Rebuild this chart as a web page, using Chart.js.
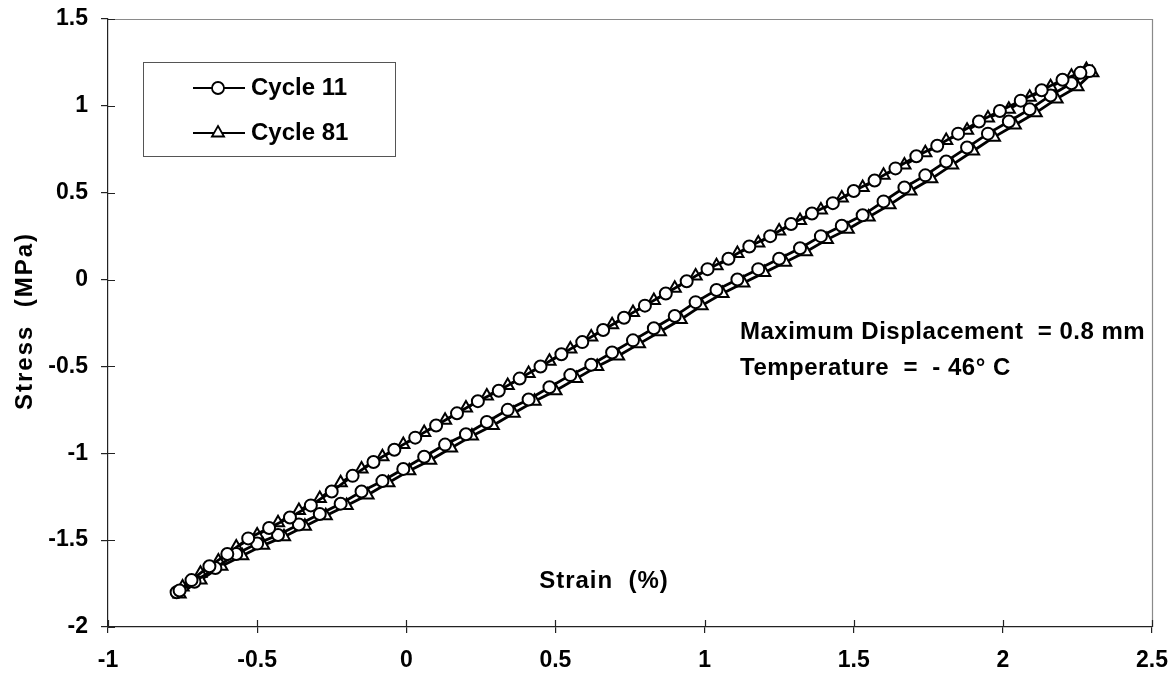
<!DOCTYPE html>
<html lang="en">
<head>
    <meta charset="UTF-8">
    <script src="https://cdn.jsdelivr.net/npm/chart.js@4.4.1/dist/chart.umd.min.js"></script>
    <style>
        * { margin: 0; padding: 0; box-sizing: border-box; }
        body { background: #fff; width: 1175px; height: 680px; overflow: hidden; }
        .chart-box { position: relative; width: 1175px; height: 680px; }
    </style>
</head>
<body>
    <div class="chart-box"><canvas id="loopChart" width="1175" height="680"></canvas></div>

    <script>
        // Cycle 11: loading branch (up) then unloading branch (down)
        const cycle11Strain = [
            -0.77, -0.71, -0.64, -0.57, -0.50, -0.43, -0.36, -0.29, -0.22, -0.15, -0.08, -0.01, 0.06, 0.13, 0.20,
            0.27, 0.34, 0.41, 0.48, 0.55, 0.62, 0.69, 0.76, 0.83, 0.90, 0.97, 1.04, 1.11, 1.18, 1.25,
            1.32, 1.39, 1.46, 1.53, 1.60, 1.67, 1.74, 1.81, 1.88, 1.95, 2.02, 2.09, 2.16, 2.23, 2.29,
            2.26, 2.20, 2.13, 2.06, 1.99, 1.92, 1.85, 1.78, 1.71, 1.64, 1.57, 1.50, 1.43, 1.36, 1.29,
            1.22, 1.15, 1.08, 1.01, 0.94, 0.87, 0.80, 0.73, 0.66, 0.59, 0.52, 0.45, 0.38, 0.31, 0.24,
            0.17, 0.10, 0.03, -0.04, -0.11, -0.18, -0.25, -0.32, -0.39, -0.46, -0.53, -0.60, -0.66, -0.72, -0.76
        ];
        const cycle11Stress = [
            -1.80, -1.74, -1.66, -1.58, -1.52, -1.47, -1.41, -1.35, -1.29, -1.22, -1.16, -1.09, -1.02, -0.95, -0.89,
            -0.82, -0.75, -0.69, -0.62, -0.55, -0.49, -0.42, -0.35, -0.28, -0.21, -0.13, -0.06, 0.00, 0.06, 0.12,
            0.18, 0.25, 0.31, 0.37, 0.45, 0.53, 0.60, 0.68, 0.76, 0.84, 0.91, 0.98, 1.06, 1.13, 1.20,
            1.19, 1.15, 1.09, 1.03, 0.97, 0.91, 0.84, 0.77, 0.71, 0.64, 0.57, 0.51, 0.44, 0.38, 0.32,
            0.25, 0.19, 0.12, 0.06, -0.01, -0.08, -0.15, -0.22, -0.29, -0.36, -0.43, -0.50, -0.57, -0.64, -0.70,
            -0.77, -0.84, -0.91, -0.98, -1.05, -1.13, -1.22, -1.30, -1.37, -1.43, -1.49, -1.58, -1.65, -1.73, -1.79
        ];

        // Cycle 81
        const cycle81Strain = [
            -0.76, -0.69, -0.62, -0.55, -0.48, -0.41, -0.34, -0.27, -0.20, -0.13, -0.06, 0.01, 0.08, 0.15, 0.22,
            0.29, 0.36, 0.43, 0.50, 0.57, 0.64, 0.71, 0.78, 0.85, 0.92, 0.99, 1.06, 1.13, 1.20, 1.27,
            1.34, 1.41, 1.48, 1.55, 1.62, 1.69, 1.76, 1.83, 1.90, 1.97, 2.04, 2.11, 2.18, 2.25, 2.30,
            2.28, 2.23, 2.16, 2.09, 2.02, 1.95, 1.88, 1.81, 1.74, 1.67, 1.60, 1.53, 1.46, 1.39, 1.32,
            1.25, 1.18, 1.11, 1.04, 0.97, 0.90, 0.83, 0.76, 0.69, 0.62, 0.55, 0.48, 0.41, 0.34, 0.27,
            0.20, 0.13, 0.06, -0.01, -0.08, -0.15, -0.22, -0.29, -0.36, -0.43, -0.50, -0.57, -0.63, -0.69, -0.75
        ];
        const cycle81Stress = [
            -1.81, -1.73, -1.65, -1.59, -1.53, -1.48, -1.42, -1.36, -1.30, -1.24, -1.17, -1.10, -1.04, -0.97, -0.90,
            -0.84, -0.77, -0.70, -0.64, -0.57, -0.50, -0.44, -0.37, -0.30, -0.23, -0.15, -0.08, -0.02, 0.04, 0.10,
            0.16, 0.23, 0.29, 0.36, 0.43, 0.51, 0.58, 0.66, 0.74, 0.82, 0.89, 0.96, 1.04, 1.11, 1.19,
            1.21, 1.17, 1.11, 1.05, 0.98, 0.93, 0.86, 0.80, 0.73, 0.66, 0.60, 0.53, 0.47, 0.40, 0.34,
            0.28, 0.21, 0.15, 0.08, 0.02, -0.05, -0.12, -0.19, -0.26, -0.33, -0.40, -0.47, -0.54, -0.61, -0.67,
            -0.74, -0.81, -0.88, -0.95, -1.02, -1.09, -1.17, -1.26, -1.33, -1.40, -1.47, -1.54, -1.62, -1.69, -1.77
        ];

        const xTickValues = [-1, -0.5, 0, 0.5, 1, 1.5, 2, 2.5];
        const yTickValues = [-2, -1.5, -1, -0.5, 0, 0.5, 1, 1.5];
        const seriesNames = ['Cycle 11', 'Cycle 81'];
        const xTitle = 'Strain  (%)';
        const yTitle = 'Stress  (MPa)';
        const noteLines = ['Maximum Displacement  = 0.8 mm', 'Temperature  =  - 46\u00B0 C'];

        const FONT = '"Liberation Sans", Arial, sans-serif';

        function toPoints(xs, ys) {
            return xs.map((x, i) => ({ x: x, y: ys[i] }));
        }

        // inner tick marks, top/right frame, legend box and text notes
        const decorPlugin = {
            id: 'decor',
            afterDraw(chart) {
                const ctx = chart.ctx;
                const a = chart.chartArea;
                const xs = chart.scales.x;
                const ys = chart.scales.y;
                ctx.save();

                ctx.strokeStyle = '#8a8a8a';
                ctx.lineWidth = 1.2;
                ctx.beginPath();
                ctx.moveTo(a.left, a.top + 0.5);
                ctx.lineTo(a.right + 0.5, a.top + 0.5);
                ctx.lineTo(a.right + 0.5, a.bottom);
                ctx.stroke();

                ctx.strokeStyle = '#222';
                ctx.lineWidth = 1.2;
                ctx.beginPath();
                xTickValues.forEach(v => {
                    const px = Math.round(xs.getPixelForValue(v)) + 0.5;
                    ctx.moveTo(px, a.bottom);
                    ctx.lineTo(px, a.bottom - 7);
                });
                yTickValues.forEach(v => {
                    const py = Math.round(ys.getPixelForValue(v)) + 0.5;
                    ctx.moveTo(a.left, py);
                    ctx.lineTo(a.left + 7, py);
                });
                ctx.stroke();

                // legend
                ctx.strokeStyle = '#555';
                ctx.lineWidth = 1;
                ctx.strokeRect(143.5, 62.5, 252, 94);
                const rows = [88, 133];
                chart.data.datasets.forEach((ds, i) => {
                    const y = rows[i];
                    ctx.strokeStyle = '#000';
                    ctx.lineWidth = 2;
                    ctx.beginPath();
                    ctx.moveTo(193, y);
                    ctx.lineTo(245, y);
                    ctx.stroke();
                    ctx.fillStyle = '#fff';
                    ctx.strokeStyle = '#000';
                    ctx.lineWidth = 1.8;
                    Chart.helpers.drawPoint(ctx, {
                        pointStyle: ds.pointStyle,
                        radius: ds.pointRadius,
                        borderWidth: 1.8,
                        rotation: 0
                    }, 218, y);
                    ctx.fillStyle = '#000';
                    ctx.font = 'bold 24px ' + FONT;
                    ctx.textAlign = 'left';
                    ctx.textBaseline = 'middle';
                    ctx.fillText(ds.label, 251, y);
                });

                // notes and axis titles
                ctx.fillStyle = '#000';
                ctx.font = 'bold 24px ' + FONT;
                ctx.textAlign = 'left';
                ctx.textBaseline = 'middle';
                ctx.letterSpacing = '0.5px';
                ctx.fillText(noteLines[0], 740, 332);
                ctx.fillText(noteLines[1], 740, 368);

                ctx.textAlign = 'center';
                ctx.letterSpacing = '1px';
                ctx.fillText(xTitle, 604, 581);

                ctx.translate(25, 321);
                ctx.rotate(-Math.PI / 2);
                ctx.letterSpacing = '2px';
                ctx.fillText(yTitle, 0, 0);

                ctx.restore();
            }
        };

        const tickFont = { family: FONT, size: 23, weight: 'bold' };

        const ctx = document.getElementById('loopChart').getContext('2d');
        const loopChart = new Chart(ctx, {
            type: 'scatter',
            data: {
                datasets: [{
                    label: seriesNames[0],
                    data: toPoints(cycle11Strain, cycle11Stress),
                    showLine: true,
                    borderColor: '#000',
                    borderWidth: 2.8,
                    pointStyle: 'circle',
                    pointRadius: 6,
                    pointBorderWidth: 2,
                    pointBackgroundColor: '#fff',
                    pointBorderColor: '#000',
                    tension: 0
                }, {
                    label: seriesNames[1],
                    data: toPoints(cycle81Strain, cycle81Stress),
                    showLine: true,
                    borderColor: '#000',
                    borderWidth: 2.8,
                    pointStyle: 'triangle',
                    pointRadius: 7,
                    pointBorderWidth: 2,
                    pointBackgroundColor: '#fff',
                    pointBorderColor: '#000',
                    tension: 0
                }]
            },
            options: {
                responsive: false,
                animation: false,
                devicePixelRatio: 1,
                layout: { padding: { top: 19, right: 23, left: 0, bottom: 0 } },
                plugins: {
                    legend: { display: false },
                    tooltip: { enabled: false }
                },
                scales: {
                    x: {
                        type: 'linear',
                        min: -1,
                        max: 2.5,
                        afterBuildTicks: s => { s.ticks = xTickValues.map(v => ({ value: v })); },
                        afterFit: s => { s.height = 53; s.paddingLeft = 0; s.paddingRight = 0; },
                        border: { display: true, color: '#222', width: 1.2 },
                        grid: { drawOnChartArea: false, drawTicks: true, tickLength: 6, color: '#222', lineWidth: 1.2 },
                        ticks: {
                            color: '#000',
                            padding: 14,
                            maxRotation: 0,
                            callback: v => String(v),
                            font: tickFont
                        }
                    },
                    y: {
                        type: 'linear',
                        min: -2,
                        max: 1.5,
                        afterBuildTicks: s => { s.ticks = yTickValues.map(v => ({ value: v })); },
                        afterFit: s => { s.width = 108; s.paddingTop = 0; s.paddingBottom = 0; },
                        border: { display: true, color: '#222', width: 1.2 },
                        grid: { drawOnChartArea: false, drawTicks: true, tickLength: 7, color: '#222', lineWidth: 1.2 },
                        ticks: {
                            color: '#000',
                            padding: 13,
                            callback: v => String(v),
                            font: tickFont
                        }
                    }
                }
            },
            plugins: [decorPlugin]
        });
    </script>
</body>
</html>
